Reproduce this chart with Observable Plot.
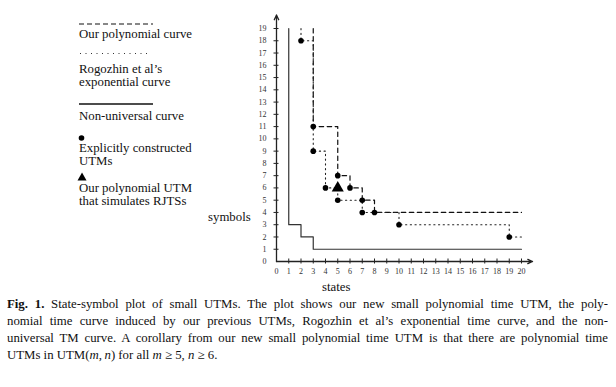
<!DOCTYPE html>
<html><head><meta charset="utf-8">
<script src="https://cdn.jsdelivr.net/npm/d3@7"></script>
<script src="https://cdn.jsdelivr.net/npm/@observablehq/plot@0.6"></script>
<style>
body{margin:0;background:#fff;}
#wrap{position:relative;width:616px;height:387px;font-family:"Liberation Serif","Times New Roman",Times,"DejaVu Serif",serif;color:#111;overflow:hidden;}
#wrap svg.plot{position:absolute;left:0;top:0;}
.t{position:absolute;font-size:12.8px;line-height:12px;height:12px;white-space:nowrap;}
.lg{position:absolute;left:0;top:0;}
.cap{position:absolute;left:7px;width:601px;height:17px;font-size:12.8px;line-height:17px;white-space:nowrap;}
.j{text-align:justify;text-align-last:justify;white-space:normal;overflow:hidden;}
</style></head>
<body><div id="wrap"></div>
<script>
// ---- data ----
const xTicks = [0,1,2,3,4,5,6,7,8,9,10,11,12,13,14,15,16,17,18,19,20];
const yTicks = [0,1,2,3,4,5,6,7,8,9,10,11,12,13,14,15,16,17,18,19];
const xAxisEnd = 20.9;
const yAxisEnd = 20.1;

// Non-universal curve (corners)
const nonUnivStates  = [1, 1, 2, 2, 3, 3, 20];
const nonUnivSymbols = [19, 3, 3, 2, 2, 1, 1];

// Our polynomial curve (dashed)
const polyStates  = [3, 3, 5, 5, 6, 6, 7, 7, 8, 8, 20];
const polySymbols = [19, 11, 11, 7, 7, 6, 6, 5, 5, 4, 4];

// Rogozhin et al's exponential curve (dotted)
const rogStates  = [2, 2, 3, 3, 4, 4, 5, 5, 7, 7, 10, 10, 19, 19, 20];
const rogSymbols = [19, 18, 18, 9, 9, 6, 6, 5, 5, 4, 4, 3, 3, 2, 2];

// Explicitly constructed UTMs
const utmStates  = [2, 3, 3, 4, 5, 5, 6, 7, 7, 8, 10, 19];
const utmSymbols = [18, 11, 9, 6, 7, 5, 6, 5, 4, 4, 3, 2];

// Our polynomial UTM that simulates RJTSs
const rjtsStates  = [5];
const rjtsSymbols = [6];

const zip = (xs, ys) => xs.map((x, i) => ({x, y: ys[i]}));
const nonUniv = zip(nonUnivStates, nonUnivSymbols);
const poly = zip(polyStates, polySymbols);
const rog = zip(rogStates, rogSymbols);
const utm = zip(utmStates, utmSymbols);
const rjts = zip(rjtsStates, rjtsSymbols);

const axisColor = "#222";
const serif = "'Liberation Serif', 'Times New Roman', Times, 'DejaVu Serif', serif";

const plot = Plot.plot({
  width: 616, height: 298,
  marginLeft: 276, marginRight: 95, marginTop: 28, marginBottom: 37,
  x: {domain: [0, 20]},
  y: {domain: [0, 19]},
  style: {fontFamily: serif, fontSize: "8px", color: "#333", background: "transparent", overflow: "visible"},
  marks: [
    Plot.axisX({ticks: xTicks, tickSize: 0, tickPadding: 7, label: null, tickFormat: d => d}),
    Plot.axisY({ticks: yTicks, tickSize: 0, tickPadding: 10, label: null, tickFormat: d => d}),
    Plot.ruleX(xTicks.slice(1), {x: d => d, y1: 0, y2: 0, insetTop: -2.5, insetBottom: -2.5, stroke: axisColor, strokeWidth: 1}),
    Plot.ruleY(yTicks.slice(1), {y: d => d, x1: 0, x2: 0, insetLeft: -2.5, insetRight: -2.5, stroke: axisColor, strokeWidth: 1}),
    Plot.arrow([0], {x1: 0, y1: 0, x2: xAxisEnd, y2: 0, stroke: axisColor, strokeWidth: 1.3, headLength: 6, headAngle: 50}),
    Plot.arrow([0], {x1: 0, y1: 0, x2: 0, y2: yAxisEnd, stroke: axisColor, strokeWidth: 1.3, headLength: 6, headAngle: 50}),
    Plot.line(nonUniv, {x: "x", y: "y", stroke: "#333", strokeWidth: 1.2}),
    Plot.line(poly, {x: "x", y: "y", stroke: "#111", strokeWidth: 1.2, strokeDasharray: "4.5,3.5"}),
    Plot.line(rog, {x: "x", y: "y", stroke: "#222", strokeWidth: 1.1, strokeDasharray: "1.2,3.5"}),
    Plot.dot(utm, {x: "x", y: "y", r: 2.8, fill: "#000", stroke: null}),
    Plot.dot(rjts, {x: "x", y: "y", r: 4.5, symbol: "triangle", fill: "#000", stroke: null})
  ]
});
plot.classList.add("plot");
const wrap = document.getElementById("wrap");
wrap.appendChild(plot);

// ---- legend & labels ----
const html = `
<svg class="lg" width="616" height="300">
  <line x1="79" x2="153" y1="24" y2="24" stroke="#111" stroke-width="1.2" stroke-dasharray="5,3"/>
  <line x1="80" x2="151" y1="53.5" y2="53.5" stroke="#333" stroke-width="1" stroke-dasharray="1,4.5"/>
  <line x1="79" x2="153" y1="104" y2="104" stroke="#111" stroke-width="1.3"/>
  <circle cx="81.5" cy="138" r="2.8" fill="#000"/>
  <path d="M82,172.5 L86.5,180.5 L77.5,180.5 Z" fill="#000"/>
</svg>
<div class="t" style="left:79px;top:28px">Our polynomial curve</div>
<div class="t" style="left:79px;top:63px">Rogozhin et al’s</div>
<div class="t" style="left:79px;top:75.5px">exponential curve</div>
<div class="t" style="left:79px;top:110px">Non-universal curve</div>
<div class="t" style="left:79px;top:142px">Explicitly constructed</div>
<div class="t" style="left:79px;top:154.5px">UTMs</div>
<div class="t" style="left:79px;top:182px">Our polynomial UTM</div>
<div class="t" style="left:79px;top:194.5px">that simulates RJTSs</div>
<div class="t" style="left:208px;top:211px">symbols</div>
<div class="t" style="left:322px;top:281px">states</div>
<div class="cap j" style="top:296px"><b>Fig. 1.</b> State-symbol plot of small UTMs. The plot shows our new small polynomial time UTM, the poly-</div>
<div class="cap j" style="top:313px">nomial time curve induced by our previous UTMs, Rogozhin et al’s exponential time curve, and the non-</div>
<div class="cap j" style="top:330px">universal TM curve. A corollary from our new small polynomial time UTM is that there are polynomial time</div>
<div class="cap" style="top:347px">UTMs in UTM(<i>m</i>,&#8201;<i>n</i>) for all <i>m</i> ≥ 5, <i>n</i> ≥ 6.</div>
`;
wrap.insertAdjacentHTML("beforeend", html);
</script>
</body></html>
